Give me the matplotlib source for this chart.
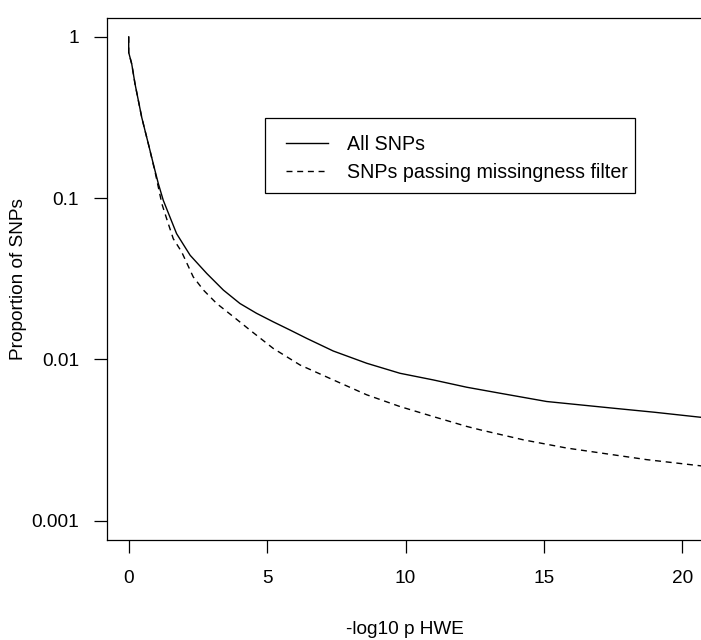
import matplotlib
matplotlib.use("Agg")
import matplotlib.pyplot as plt
from matplotlib.patches import Rectangle
from matplotlib.ticker import FixedLocator, NullLocator

# ---- data ----
all_x = [0, 0, 0.11, 0.23, 0.35, 0.47, 0.59, 0.71, 0.83, 0.95, 1.07, 1.25, 1.49, 1.73,
         2.03, 2.22, 2.82, 3.42, 4.02, 4.62, 5.22, 5.83, 6.43, 7.39, 8.60, 9.80, 11.0,
         12.21, 13.41, 15.10, 17.51, 19.0, 20.64, 20.9]
all_y = [1.0, 0.80, 0.678, 0.509, 0.402, 0.317, 0.262, 0.217, 0.179, 0.148, 0.123, 0.0968,
         0.0763, 0.0602, 0.0498, 0.0442, 0.0341, 0.0269, 0.0222, 0.0193, 0.0171, 0.0152,
         0.0135, 0.01127, 0.00946, 0.0082, 0.00746, 0.00672, 0.00617, 0.00548, 0.00498,
         0.0047, 0.00438, 0.00434]

miss_x = [0, 0, 0.11, 0.23, 0.35, 0.47, 0.59, 0.71, 0.83, 0.95, 1.07, 1.20, 1.39, 1.61,
          1.91, 2.33, 2.70, 3.18, 3.78, 4.38, 5.22, 6.19, 7.39, 8.60, 9.80, 11.0, 12.21,
          12.69, 14.26, 15.82, 17.51, 18.71, 20.64, 20.9]
miss_y = [1.0, 0.80, 0.678, 0.509, 0.402, 0.317, 0.262, 0.217, 0.178, 0.146, 0.117, 0.092,
          0.0728, 0.0560, 0.0465, 0.0325, 0.0269, 0.0222, 0.0184, 0.0152, 0.0117, 0.00923,
          0.00746, 0.00603, 0.0051, 0.00442, 0.00384, 0.00366, 0.00317, 0.00282, 0.00256,
          0.00239, 0.00219, 0.00216]

x_ticks = [0, 5, 10, 15, 20]
y_ticks = [0.001, 0.01, 0.1, 1]
y_tick_labels = ["0.001", "0.01", "0.1", "1"]
series_labels = ["All SNPs", "SNPs passing missingness filter"]

# ---- figure ----
plt.rcParams['font.family'] = ['Liberation Sans', 'DejaVu Sans']
FS = 13.7
W, H = 701, 640
fig = plt.figure(figsize=(W / 100, H / 100), dpi=100)

left_px, right_px, top_px, bottom_px = 106.7, 703.0, 17.5, 540.0
ax = fig.add_axes([left_px / W, 1 - bottom_px / H,
                   (right_px - left_px) / W, (bottom_px - top_px) / H])

lw = 1.0
ax.plot(all_x, all_y, color="black", lw=lw)
ln, = ax.plot(miss_x, miss_y, color="black", lw=lw)
ln.set_dashes([4.3 / lw, 3.4 / lw])

ax.set_yscale("log")
ax.set_xlim(-0.795, (right_px - 128.7) / 27.68)
ax.set_ylim(10 ** -3.12, 10 ** 0.12)

ax.xaxis.set_major_locator(FixedLocator(x_ticks))
ax.set_xticklabels([str(t) for t in x_ticks])
ax.yaxis.set_major_locator(FixedLocator(y_ticks))
ax.yaxis.set_minor_locator(NullLocator())
ax.set_yticklabels(y_tick_labels)

for s in ax.spines.values():
    s.set_linewidth(0.9)
ax.tick_params(axis="both", direction="out", length=9.4, width=0.9, labelsize=FS)
ax.tick_params(axis="x", pad=12)
ax.tick_params(axis="y", pad=10.5)

ax.set_xlabel("-log10 p HWE", fontsize=FS)
ax.xaxis.set_label_coords(0.5, -(629 - bottom_px) / (bottom_px - top_px))
ax.xaxis.label.set_va("center")
ax.set_ylabel("Proportion of SNPs", fontsize=FS)
ax.yaxis.set_label_coords(-(left_px - 18) / (right_px - left_px), 0.5)
ax.yaxis.label.set_va("center")

# legend: frameless entries plus an R-style rectangular box
bx0, bx1, by0, by1 = 265.0, 635.0, 118.0, 193.0
leg = ax.legend(series_labels, loc="upper left",
                bbox_to_anchor=(286 / W, 1 - 134.5 / H),
                bbox_transform=fig.transFigure, borderaxespad=0, borderpad=0,
                frameon=False, fontsize=14.1,
                handlelength=2.15, handletextpad=0.95, labelspacing=0.48)
fig.add_artist(Rectangle((bx0 / W, 1 - by1 / H), (bx1 - bx0) / W, (by1 - by0) / H,
                         transform=fig.transFigure, fill=False, edgecolor="black",
                         linewidth=0.9))

fig.savefig("out.png", dpi=100)
